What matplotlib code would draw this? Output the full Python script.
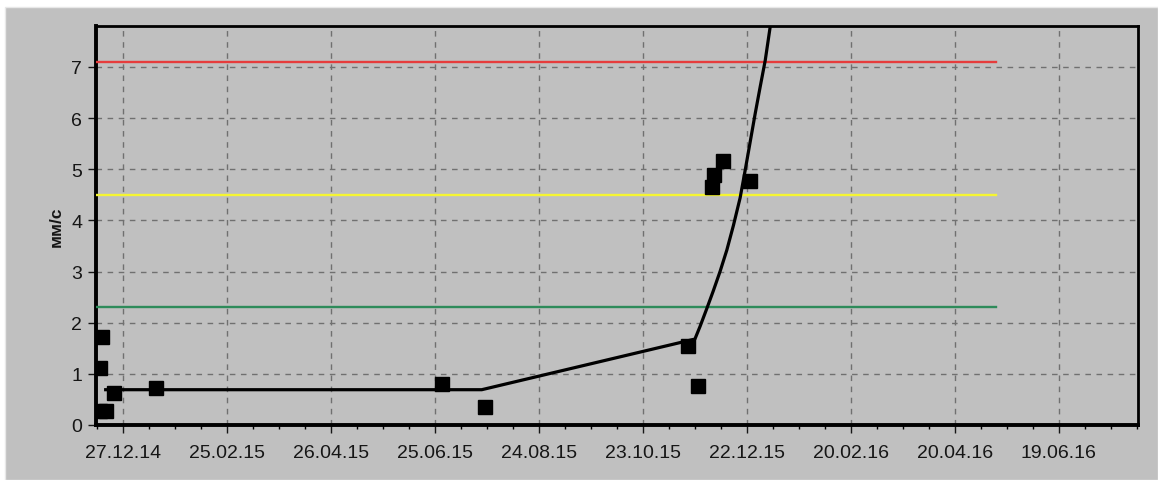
import matplotlib

matplotlib.use("Agg")
import matplotlib.dates as mdates
import matplotlib.pyplot as plt
import numpy as np
from matplotlib.patches import Rectangle

# measured points (date, mm/s)
point_dates = [
  "2014-12-15", "2014-12-14", "2014-12-14", "2014-12-17", "2014-12-22",
  "2015-01-15", "2015-06-29", "2015-07-24", "2015-11-18", "2015-11-24",
  "2015-12-02", "2015-12-03", "2015-12-08", "2015-12-24",
]
point_values = [1.73, 1.12, 0.28, 0.28, 0.62, 0.72, 0.80, 0.36, 1.55, 0.77, 4.65, 4.88, 5.16, 4.77]

# trend line
trend_dates = [
  "2014-12-17 00:00", "2015-07-22 00:00", "2015-11-22 00:00", "2015-11-25 00:00",
  "2015-11-28 19:00", "2015-12-02 14:00", "2015-12-06 12:00", "2015-12-10 10:00",
  "2015-12-14 05:00", "2015-12-18 02:00", "2015-12-21 00:00", "2015-12-23 22:00",
  "2015-12-26 19:00", "2015-12-29 17:00", "2016-01-01 14:00", "2016-01-04 12:00",
  "2016-01-06 00:00",
]
trend_values = [0.69, 0.69, 1.68, 1.93, 2.27, 2.62, 3.00, 3.42,
                3.90, 4.44, 4.98, 5.54, 6.09, 6.62, 7.13, 7.80, 8.2]

# alarm levels
level_values = [7.1, 4.5, 2.3]
level_colors = ["#e63c3c", "#f5f532", "#2e8b5a"]
level_start = "2014-12-11"
level_end = "2016-05-14"

tick_labels = [
  "27.12.14", "25.02.15", "26.04.15", "25.06.15", "24.08.15",
  "23.10.15", "22.12.15", "20.02.16", "20.04.16", "19.06.16",
]
x_start = "2014-12-11 10:00"
x_end = "2016-08-03 16:00"
y_label = "мм/с"


def to_num(dates):
  return mdates.date2num(np.array(dates, dtype="datetime64[m]"))


plt.rcParams["font.family"] = ["Liberation Sans", "DejaVu Sans"]
W, H = 1158, 481
fig = plt.figure(figsize=(W / 100, H / 100), dpi=100, facecolor="white")
panel = Rectangle((5 / W, 0), 1 - 5 / W, (H - 8) / H, transform=fig.transFigure,
                  facecolor="#c0c0c0", edgecolor="#e8e8e8", lw=1.0, zorder=-10)
fig.add_artist(panel)
ax = fig.add_axes([96 / W, (H - 426) / H, (1138 - 96) / W, (426 - 27) / H])
ax.set_facecolor("#c0c0c0")

x0, x1 = to_num([x_start, x_end])
ax.set_xlim(x0, x1)
ax.set_ylim(0, 7.8)

ls, le = to_num([level_start, level_end])
for val, col in zip(level_values, level_colors):
  ax.plot([ls, le], [val, val], color=col, lw=1.7, zorder=3)

ax.plot(to_num(trend_dates), trend_values, color="black", lw=2.3, zorder=4)
ax.plot(to_num(point_dates), point_values, ls="none", marker="s",
        markersize=10, color="black", zorder=5)

tick_dates = [f"20{t[6:8]}-{t[3:5]}-{t[0:2]}" for t in tick_labels]
tick_pos = to_num(tick_dates)
ax.set_xticks(tick_pos)
ax.set_xticklabels(tick_labels)
ax.set_xticks(np.arange(tick_pos[0] - 15, x1, 15), minor=True)
ax.set_yticks(range(0, 8))

ax.grid(True, which="major", color="#707070", ls=(0, (4, 4)), lw=1.0, zorder=1)
for sp in ax.spines.values():
  sp.set_linewidth(2.0)
  sp.set_color("black")
ax.spines["left"].set_linewidth(2.8)
ax.spines["bottom"].set_linewidth(2.8)

ax.tick_params(axis="both", which="major", labelsize=14, colors="#161616",
               length=6, width=1.0, direction="out")
ax.tick_params(axis="x", which="major", pad=8)
ax.tick_params(axis="y", which="major", pad=4)
ax.tick_params(axis="x", which="minor", length=3, width=1.0)
ax.set_ylabel(y_label, fontsize=12.5, fontweight="bold", color="#161616")
ax.yaxis.set_label_coords(-0.031, 0.5)

fig.savefig("out.png", dpi=100, facecolor=fig.get_facecolor())
